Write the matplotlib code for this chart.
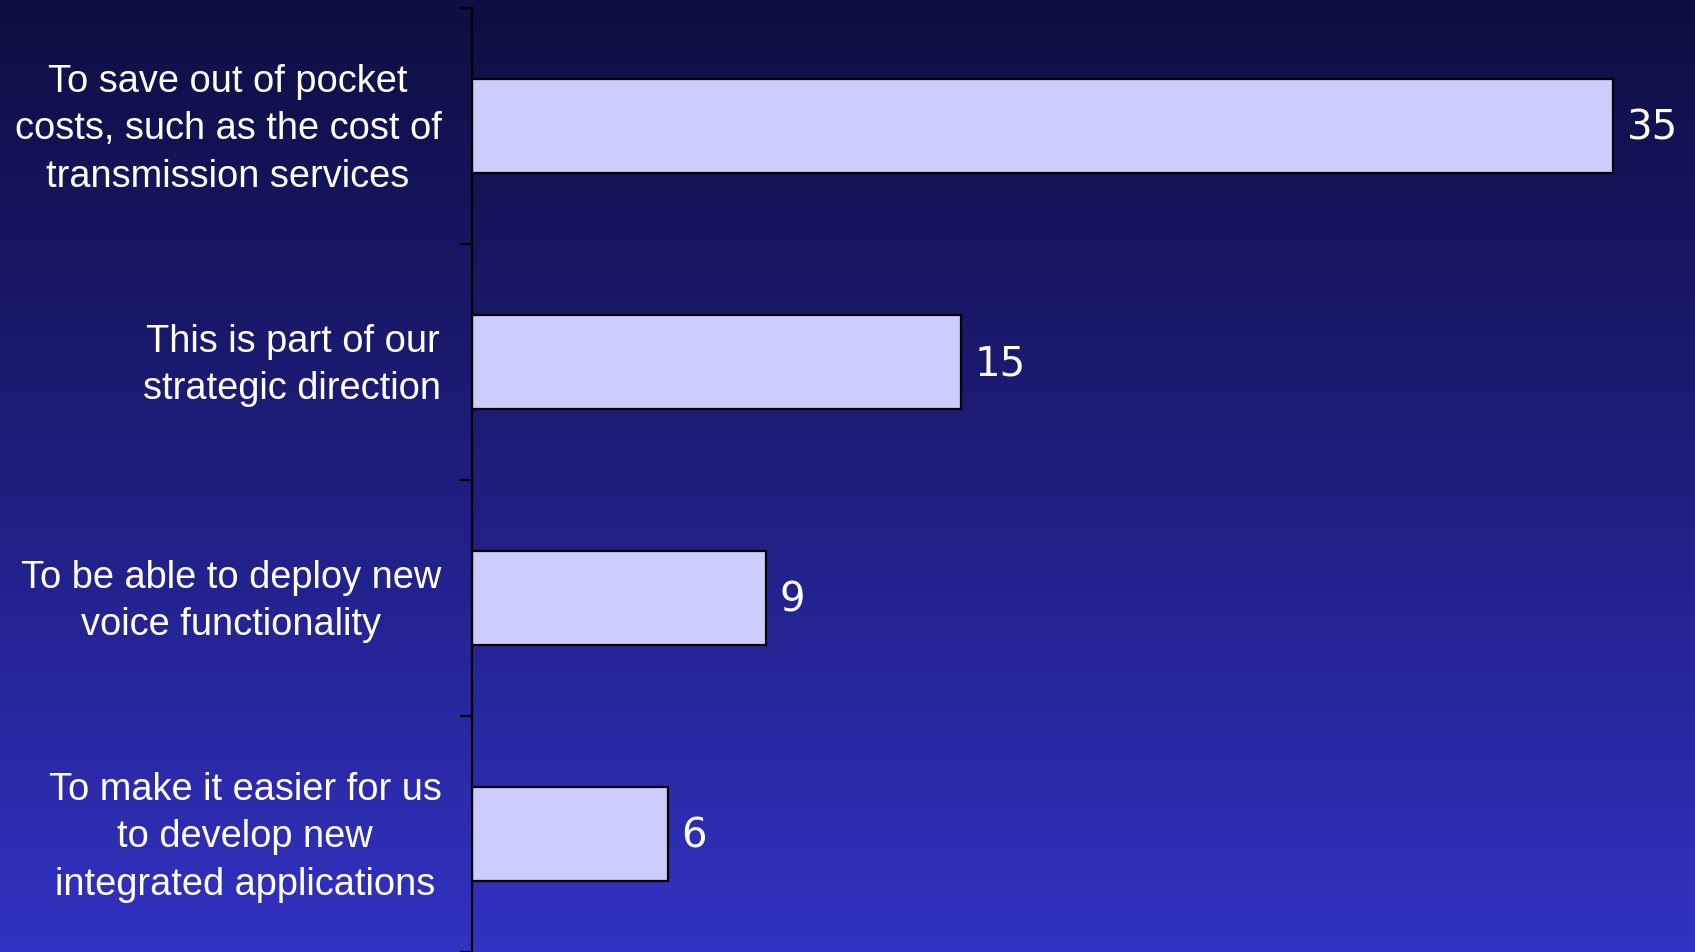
import numpy as np
import matplotlib.pyplot as plt
import matplotlib.transforms as mtransforms
from matplotlib.colors import LinearSegmentedColormap

categories = [
    "To save out of pocket\ncosts, such as the cost of\ntransmission services",
    "This is part of our\nstrategic direction",
    "To be able to deploy new\nvoice functionality",
    "To make it easier for us\nto develop new\nintegrated applications",
]
values = [35, 15, 9, 6]

fig = plt.figure(figsize=(16.95, 9.52), dpi=100)

# background gradient, dark navy at top to blue at bottom
bg = fig.add_axes([0, 0, 1, 1], zorder=-10)
cmap = LinearSegmentedColormap.from_list("bg", ["#0e0e42", "#1e1e7e", "#3232c4"])
grad = np.linspace(0, 1, 256).reshape(-1, 1)
bg.imshow(grad, aspect="auto", cmap=cmap, extent=[0, 1, 0, 1], origin="upper")
bg.axis("off")

ax = fig.add_axes([472 / 1695, 0, 1 - 472 / 1695, 1 - 8 / 952])
ax.patch.set_alpha(0)

y = np.arange(len(categories))
ax.barh(y, values, height=0.4, color="#ccccff", edgecolor="black", linewidth=1.6)
ax.set_ylim(len(categories) - 0.5, -0.5)
ax.set_xlim(0, 37.5)

down = mtransforms.ScaledTranslation(0, -0.03, fig.dpi_scale_trans)
for yi, v in zip(y, values):
    ax.text(v + 0.42, yi, str(v), va="center", ha="left", color="white",
            fontsize=29, family="DejaVu Sans", transform=ax.transData + down)

ax.set_yticks(y)
ax.set_yticklabels(categories, fontsize=27.4, color="white", family="Liberation Sans",
                   multialignment="center", linespacing=1.42)
ax.tick_params(axis="y", which="major", length=0, pad=22)
shift = mtransforms.ScaledTranslation(0, 0.065, fig.dpi_scale_trans)
for lab in ax.get_yticklabels():
    lab.set_transform(lab.get_transform() + shift)
ax.set_yticks(np.arange(len(categories) + 1) - 0.5, minor=True)
ax.tick_params(axis="y", which="minor", length=9, width=1.6, color="black")
ax.set_xticks([])

for s in ["top", "right", "bottom"]:
    ax.spines[s].set_visible(False)
ax.spines["left"].set_linewidth(1.6)
ax.spines["left"].set_color("black")

fig.savefig("out.png", dpi=100)
